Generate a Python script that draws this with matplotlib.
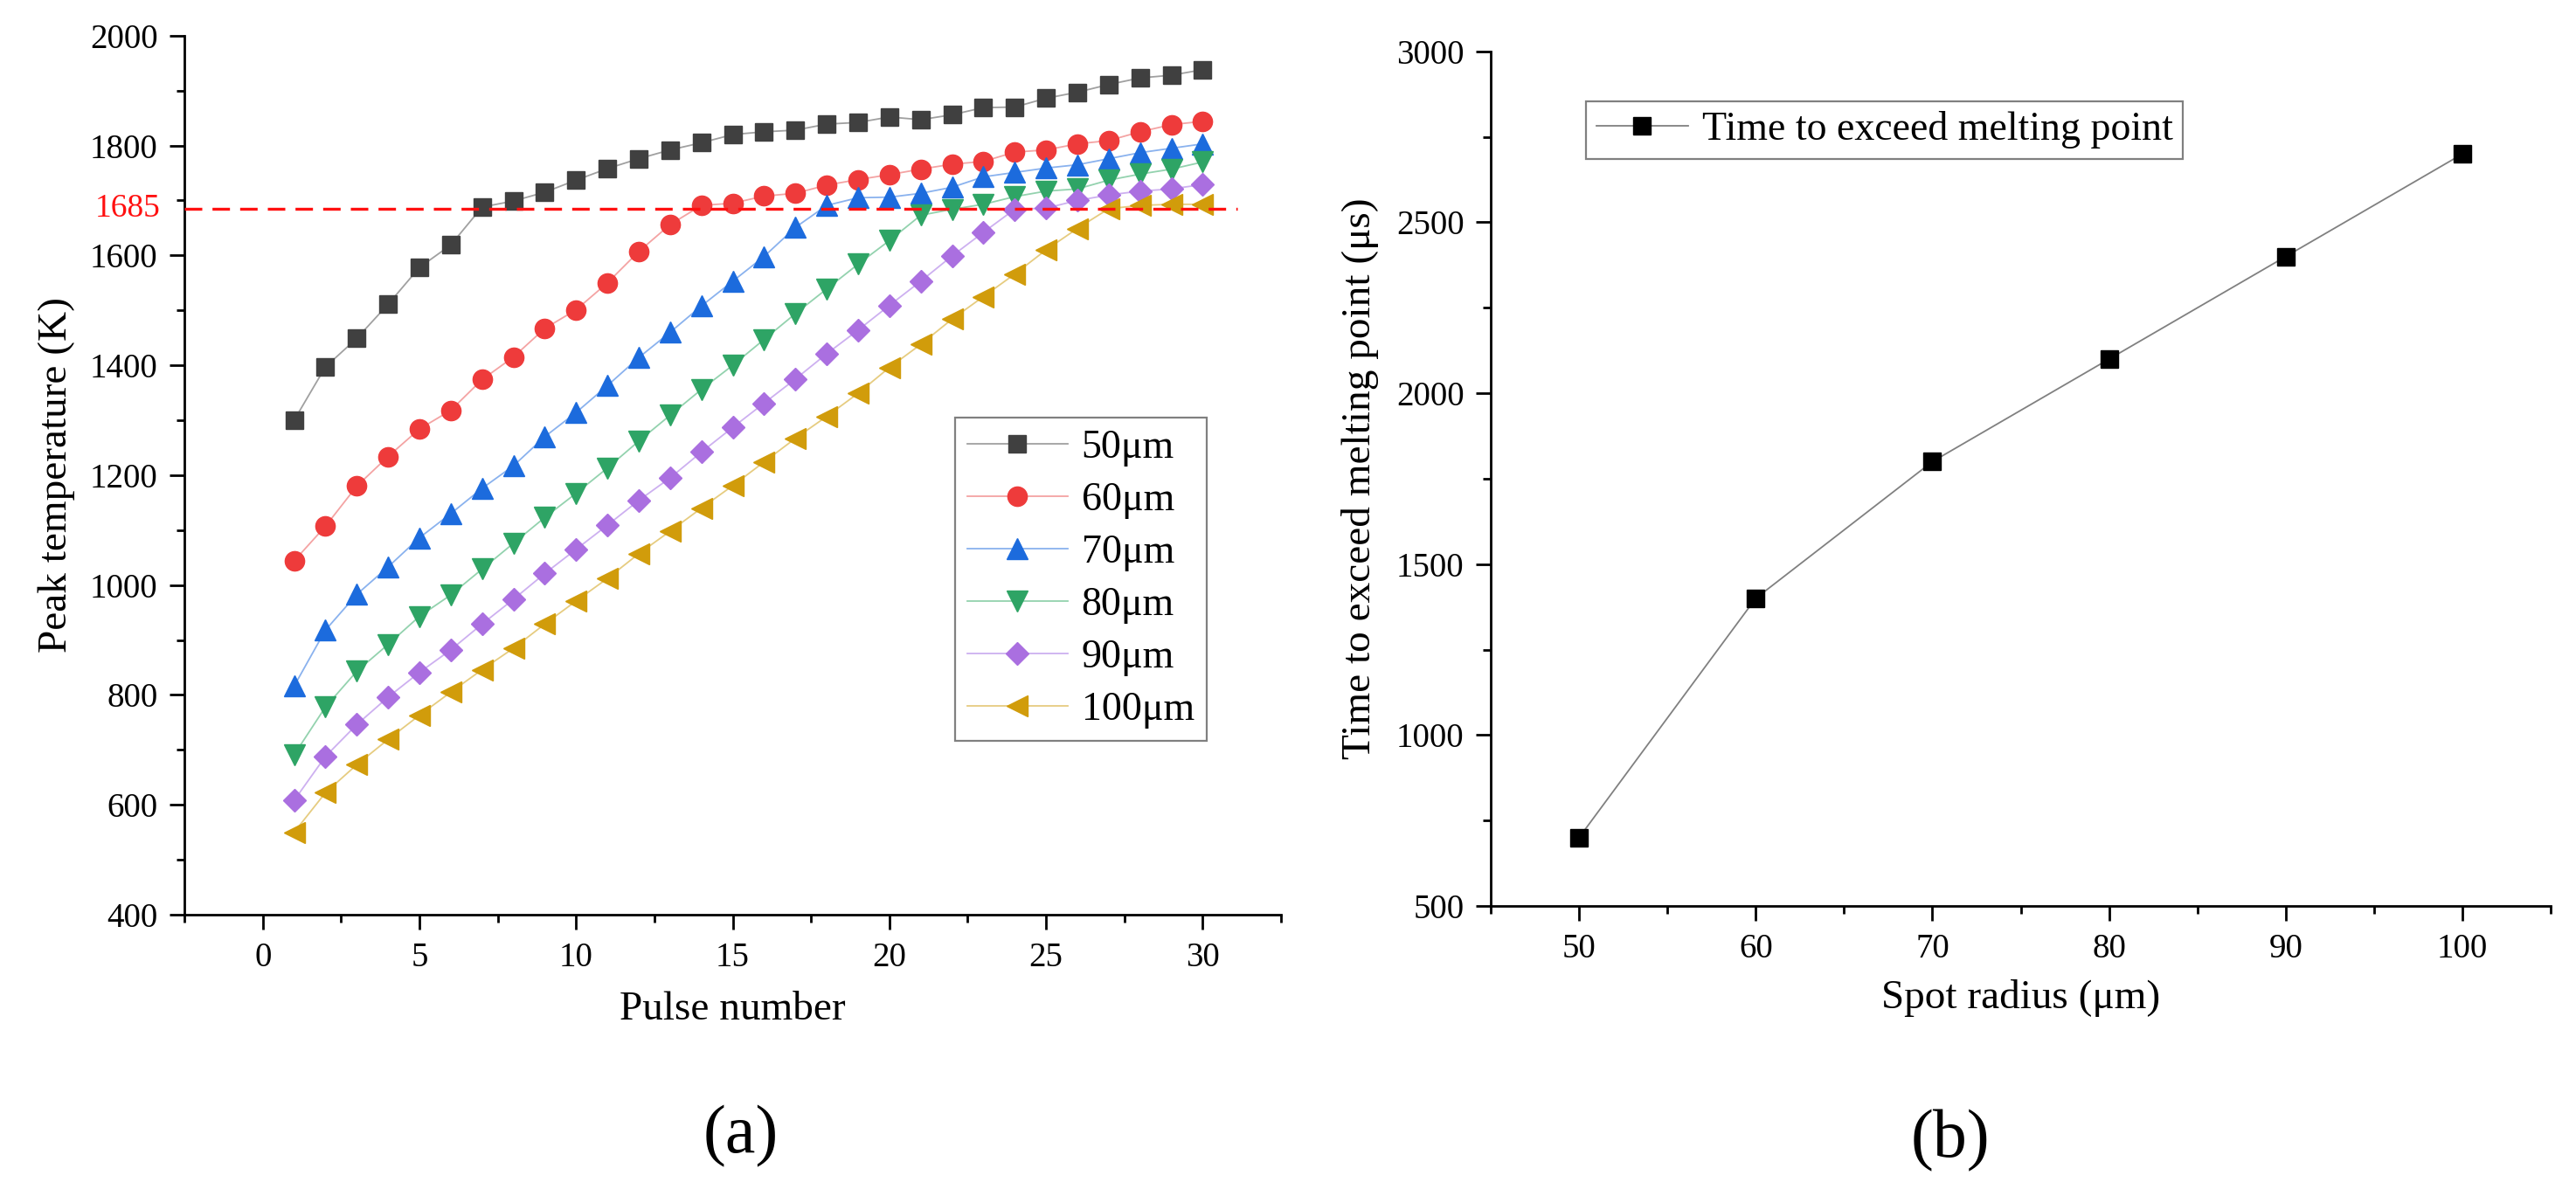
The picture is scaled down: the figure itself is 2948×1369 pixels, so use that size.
import numpy as np
import matplotlib
matplotlib.use('Agg')
import matplotlib.pyplot as plt
from matplotlib.ticker import MultipleLocator
from matplotlib.transforms import blended_transform_factory

plt.rcParams['font.family'] = ['Liberation Serif', 'DejaVu Serif']
plt.rcParams['mathtext.fontset'] = 'stix'

# (a) peak temperature vs pulse number
pulse = np.arange(1, 31)
t50 = [1300, 1397, 1449, 1511, 1578, 1619, 1688, 1699, 1715, 1737, 1758, 1776, 1792, 1805, 1820,
       1825, 1828, 1839, 1842, 1852, 1847, 1856, 1869, 1870, 1886, 1897, 1911, 1923, 1928, 1938]
t60 = [1044, 1107, 1180, 1234, 1284, 1318, 1374, 1415, 1467, 1501, 1550, 1607, 1656, 1691, 1695,
       1708, 1713, 1728, 1738, 1747, 1757, 1766, 1771, 1788, 1792, 1803, 1809, 1825, 1838, 1844]
t70 = [816, 918, 983, 1033, 1086, 1130, 1176, 1217, 1270, 1314, 1363, 1414, 1460, 1508, 1553,
       1598, 1651, 1691, 1705, 1706, 1713, 1724, 1743, 1751, 1759, 1765, 1776, 1787, 1795, 1803]
t80 = [691, 778, 843, 892, 943, 982, 1029, 1076, 1123, 1167, 1213, 1262, 1309, 1356, 1400,
       1447, 1494, 1539, 1584, 1627, 1673, 1684, 1693, 1707, 1717, 1721, 1737, 1748, 1757, 1770]
t90 = [608, 688, 746, 796, 841, 882, 929, 974, 1021, 1065, 1109, 1154, 1195, 1242, 1287,
       1331, 1375, 1421, 1464, 1509, 1553, 1599, 1642, 1684, 1686, 1700, 1710, 1717, 1721, 1729]
t100 = [550, 622, 673, 719, 763, 805, 846, 885, 929, 971, 1012, 1057, 1098, 1140, 1181,
        1224, 1267, 1307, 1349, 1396, 1438, 1484, 1525, 1566, 1610, 1649, 1685, 1691, 1693, 1693]
labels_a = ['50μm', '60μm', '70μm', '80μm', '90μm', '100μm']
melt_T = 1685

# (b) time to exceed melting point vs spot radius
radius = [50, 60, 70, 80, 90, 100]
t_melt = [700, 1400, 1800, 2100, 2400, 2700]

series = [t50, t60, t70, t80, t90, t100]
markers = ['s', 'o', '^', 'v', 'D', '<']
msizes = [14, 16, 17, 17, 13, 17]
mcolors = ['#404040', '#EE3B3B', '#1C6BDD', '#2EA465', '#AA6FE0', '#D19C0B']
lcolors = ['#A0A0A0', '#F4A3A3', '#8AB2EE', '#93D2AE', '#CDB0F0', '#E6CC80']

fig = plt.figure(figsize=(29.48, 13.69), dpi=100)
ax1 = fig.add_axes([0.0716, 0.2352, 0.4257, 0.735])
ax2 = fig.add_axes([0.5787, 0.2425, 0.4115, 0.7145])

for y, m, ms, mc, lc, lab in zip(series, markers, msizes, mcolors, lcolors, labels_a):
    ax1.plot(pulse, y, color=lc, lw=1.3, marker=m, ms=ms, mfc=mc, mec=mc, label=lab)

ax1.plot([-2.5, 31.1], [melt_T, melt_T], color='#FF1010', lw=2.4, dashes=(6, 3.5), zorder=5)
trans = blended_transform_factory(ax1.transAxes, ax1.transData)
ax1.text(-0.022, melt_T, str(melt_T), transform=trans, ha='right', va='center',
         color='#FF1010', fontsize=27)

ax1.set_xlim(-2.5, 32.5)
ax1.set_ylim(400, 2000)
ax1.xaxis.set_major_locator(MultipleLocator(5))
ax1.xaxis.set_minor_locator(MultipleLocator(2.5))
ax1.yaxis.set_major_locator(MultipleLocator(200))
ax1.yaxis.set_minor_locator(MultipleLocator(100))
ax1.set_xlabel('Pulse number', fontsize=34, labelpad=14)
ax1.set_ylabel('Peak temperature (K)', fontsize=34, labelpad=12)

leg = ax1.legend(loc='lower left', bbox_to_anchor=(0.703, 0.198), fontsize=33,
                 frameon=True, fancybox=False, edgecolor='#808080', framealpha=1,
                 handlelength=2.5, handletextpad=0.35, labelspacing=0.38,
                 borderpad=0.3, borderaxespad=0)
leg.get_frame().set_linewidth(1.6)

ax2.plot(radius, t_melt, color='#808080', lw=1.3, marker='s', ms=14, mfc='black', mec='black',
         label='Time to exceed melting point')
ax2.set_xlim(45, 105)
ax2.set_ylim(500, 3000)
ax2.xaxis.set_major_locator(MultipleLocator(10))
ax2.xaxis.set_minor_locator(MultipleLocator(5))
ax2.yaxis.set_major_locator(MultipleLocator(500))
ax2.yaxis.set_minor_locator(MultipleLocator(250))
ax2.set_xlabel('Spot radius (μm)', fontsize=34, labelpad=12)
ax2.set_ylabel('Time to exceed melting point (μs)', fontsize=34, labelpad=14)
leg2 = ax2.legend(loc='upper left', bbox_to_anchor=(0.09, 0.942), fontsize=33,
                  frameon=True, fancybox=False, edgecolor='#808080', framealpha=1,
                  handlelength=2.3, handletextpad=0.35, borderpad=0.25, borderaxespad=0)
leg2.get_frame().set_linewidth(1.6)

for ax in (ax1, ax2):
    for side in ('top', 'right'):
        ax.spines[side].set_visible(False)
    for side in ('left', 'bottom'):
        ax.spines[side].set_linewidth(2)
    ax.tick_params(which='major', direction='out', length=12, width=2, labelsize=28, pad=10)
    ax.tick_params(which='minor', direction='out', length=6.5, width=2)

fig.text(0.2877, 0.0497, '(a)', ha='center', va='center', fontsize=56)
fig.text(0.757, 0.046, '(b)', ha='center', va='center', fontsize=56)

fig.savefig('out.png', dpi=100)
